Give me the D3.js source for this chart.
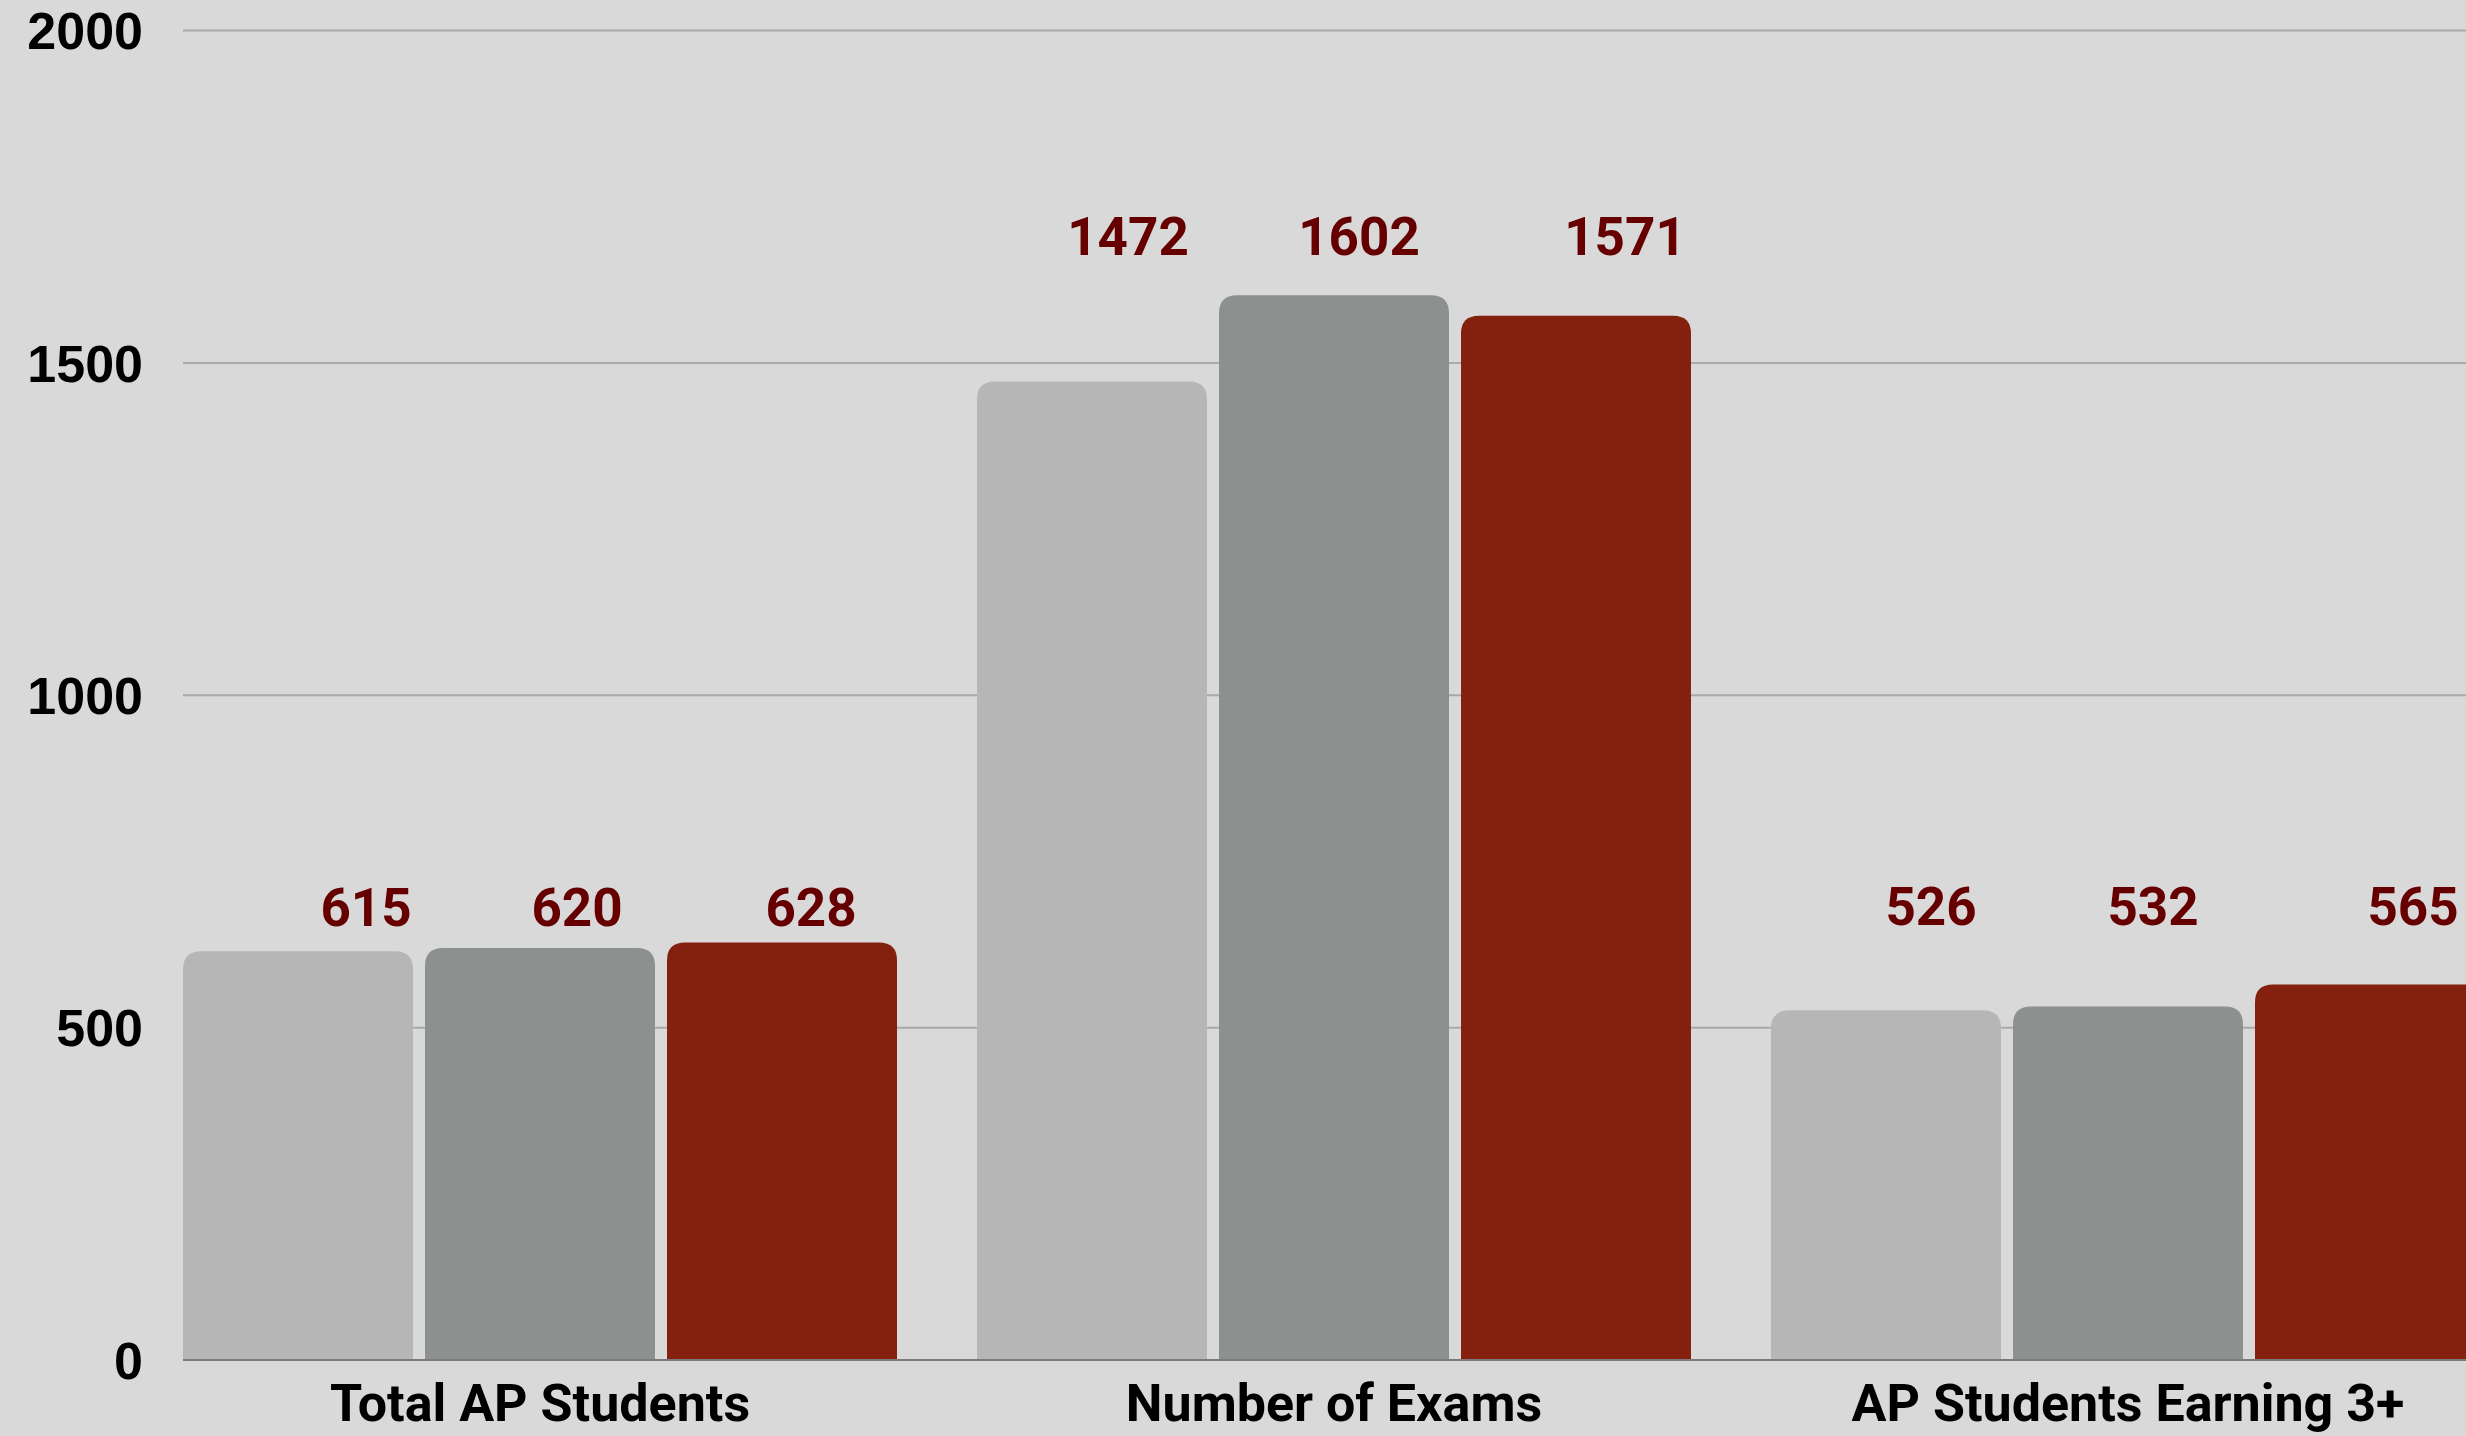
<!DOCTYPE html>
<html>
<head>
<meta charset="utf-8">
<script src="https://cdn.jsdelivr.net/npm/d3@7"></script>
<style>
  html, body { margin: 0; padding: 0; background: #d9d9d9; overflow: hidden; }
  svg { display: block; }
</style>
</head>
<body>
<script>
// ---- data ----
const categories = ["Total AP Students", "Number of Exams", "AP Students Earning 3+"];
const seriesNames = ["Series A", "Series B", "Series C"];
const seriesA = [615, 1472, 526];
const seriesB = [620, 1602, 532];
const seriesC = [628, 1571, 565];
const yTicks = [0, 500, 1000, 1500, 2000];

// ---- layout / style ----
const W = 2466, H = 1436;
const colors = ["#b6b6b6", "#8c9190", "#84200e"];
const labelLift = [17, 40, 59];               // px above tallest bar in group
const labelNudge = [[68, 37, 29], [36, 25, 49], [45, 25, 43]]; // px right of bar centre

const series = [seriesA, seriesB, seriesC];

const svg = d3.select("body").append("svg")
  .attr("width", W).attr("height", H);

svg.append("rect").attr("width", W).attr("height", H).attr("fill", "#d9d9d9");

const y = d3.scaleLinear().domain([0, 2000]).range([1360, 30.6]);

const x0 = d3.scaleBand().domain(categories)
  .range([183, 183 + 794 * 3 - 80])
  .paddingInner(80 / 794).paddingOuter(0);

const x1 = d3.scaleBand().domain(seriesNames)
  .range([0, x0.bandwidth()])
  .paddingInner(12 / 242).paddingOuter(0);

// gridlines
svg.append("g").selectAll("line")
  .data(yTicks.filter(t => t !== 0))
  .join("line")
  .attr("x1", 183).attr("x2", W)
  .attr("y1", d => y(d)).attr("y2", d => y(d))
  .attr("stroke", "#a9a9a9").attr("stroke-width", 2);

// y tick labels
const yFont = 52;
svg.append("g").selectAll("text")
  .data(yTicks)
  .join("text")
  .attr("x", 143)
  .attr("y", d => y(d) + yFont * 0.358)
  .attr("text-anchor", "end")
  .attr("font-family", "'Liberation Sans', Arial, sans-serif")
  .attr("font-weight", "bold")
  .attr("font-size", yFont)
  .attr("fill", "#000")
  .text(d => d);

// bars
function topRounded(x, yTop, w, h, r) {
  r = Math.min(r, w / 2, h);
  return `M${x},${yTop + h}V${yTop + r}Q${x},${yTop} ${x + r},${yTop}H${x + w - r}Q${x + w},${yTop} ${x + w},${yTop + r}V${yTop + h}Z`;
}

const barData = [];
categories.forEach((c, ci) => {
  seriesNames.forEach((s, si) => {
    barData.push({ cat: c, ci, ser: s, si, value: series[si][ci] });
  });
});

svg.append("g").selectAll("path")
  .data(barData)
  .join("path")
  .attr("d", d => {
    const bx = x0(d.cat) + x1(d.ser);
    const yt = y(d.value);
    return topRounded(bx, yt, x1.bandwidth(), y(0) - yt, 18);
  })
  .attr("fill", d => colors[d.si]);

// baseline
svg.append("line")
  .attr("x1", 183).attr("x2", W)
  .attr("y1", y(0)).attr("y2", y(0))
  .attr("stroke", "#7a7a7a").attr("stroke-width", 2);

// value labels
svg.append("g").selectAll("text")
  .data(barData)
  .join("text")
  .attr("x", d => x0(d.cat) + x1(d.ser) + x1.bandwidth() / 2 + labelNudge[d.ci][d.si])
  .attr("y", d => y(d3.max(series, s => s[d.ci])) - labelLift[d.ci])
  .attr("text-anchor", "middle")
  .attr("font-family", "Roboto, 'Noto Sans', sans-serif")
  .attr("font-weight", "bold")
  .attr("font-size", 53)
  .attr("fill", "#660000")
  .text(d => d.value);

// category labels
svg.append("g").selectAll("text")
  .data(categories)
  .join("text")
  .attr("x", d => x0(d) + x0.bandwidth() / 2)
  .attr("y", 1421)
  .attr("text-anchor", "middle")
  .attr("font-family", "Roboto, 'Noto Sans', sans-serif")
  .attr("font-weight", "bold")
  .attr("font-size", 52)
  .attr("fill", "#000")
  .text(d => d);
</script>
</body>
</html>
